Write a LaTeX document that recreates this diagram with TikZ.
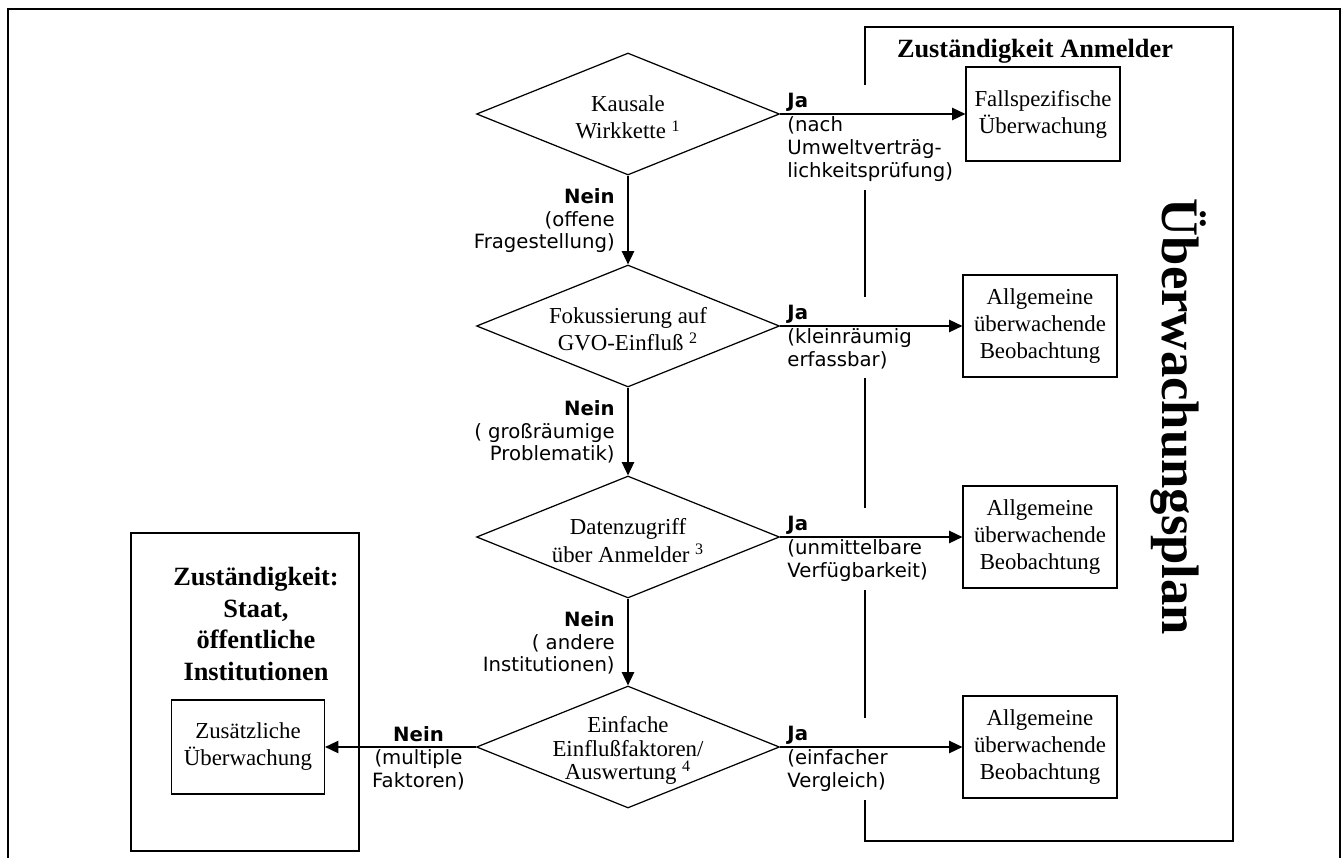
\documentclass[tikz,border=0pt]{standalone}
\usepackage{fontspec}
\setmainfont{Liberation Serif}
\newfontfamily\verdana{DejaVu Sans}
\usetikzlibrary{shapes.geometric,arrows.meta}
\tikzstyle{frame}=[line width=0.6pt]
\tikzstyle{box}=[rectangle, draw=black, line width=0.7pt, minimum width=3.08cm, minimum height=2.04cm, inner sep=0pt, align=center, font=\fontsize{13}{15.4}\selectfont]
\tikzstyle{decision}=[diamond, draw=black, line width=0.7pt, minimum width=6.06cm, minimum height=2.44cm, inner sep=0pt]
\tikzstyle{dtext}=[align=center, font=\fontsize{13}{15.5}\selectfont, yshift=-2pt]
\tikzstyle{ja}=[anchor=north west, align=left, fill=white, inner xsep=2pt, inner ysep=5pt, xshift=2pt, yshift=16.8pt, font=\verdana\fontsize{11.2}{13.2}\selectfont]
\tikzstyle{nein}=[anchor=north east, align=right, inner sep=0pt, xshift=-7.4pt, yshift=-7.4pt, font=\verdana\fontsize{11.2}{12.8}\selectfont]
\tikzstyle{heading}=[align=center, inner sep=0pt, font=\bfseries\fontsize{15}{18}\selectfont]
\tikzstyle{arrow}=[line width=0.7pt, -{Triangle[length=7.5pt,width=7pt]}]

\begin{document}
\begin{tikzpicture}[x=0.02cm, y=-0.02cm]
	\useasboundingbox (0,0) rectangle (1343,858);

	% frames
	\draw[frame] (8,858) -- (8,9) -- (1340,9) -- (1340,858);
	\draw[frame] (865,27) rectangle (1233,841);
	\draw[frame] (131,533) rectangle (359,851);

	\node[heading] (anmelder) at (1035,51) {Zuständigkeit Anmelder};
	\node[heading, anchor=north] (staat) at (256,567) {Zuständigkeit:\\Staat,\\öffentliche\\Institutionen};
	\node[rotate=-90, inner sep=0pt, font=\bfseries\fontsize{30}{30}\selectfont] (plantitel) at (1179,417) {Überwachungsplan};

	% questions
	\node[decision, label={[dtext]center:{Kausale\\Wirkkette \textsuperscript{1}}}] (frage1) at (628,114) {};
	\node[decision, label={[dtext]center:{Fokussierung auf\\GVO-Einfluß \textsuperscript{2}}}] (frage2) at (628,326) {};
	\node[decision, label={[dtext]center:{Datenzugriff\\über Anmelder \textsuperscript{3}}}] (frage3) at (628,537) {};
	\node[decision, label={[dtext, font=\fontsize{13}{13.2}\selectfont]center:{Einfache\\Einflußfaktoren/\\Auswertung \textsuperscript{4}}}] (frage4) at (628,747) {};

	\node[ja] (ja1) at (frage1.east) {\textbf{Ja}\\(nach\\Umweltverträg-\\lichkeitsprüfung)};
	\node[ja] (ja2) at (frage2.east) {\textbf{Ja}\\(kleinräumig\\erfassbar)};
	\node[ja] (ja3) at (frage3.east) {\textbf{Ja}\\(unmittelbare\\Verfügbarkeit)};
	\node[ja] (ja4) at (frage4.east) {\textbf{Ja}\\(einfacher\\Vergleich)};

	\node[nein] (nein1) at (frage1.south) {\textbf{Nein}\\(offene\\Fragestellung)};
	\node[nein] (nein2) at (frage2.south) {\textbf{Nein}\\( großräumige\\Problematik)};
	\node[nein] (nein3) at (frage3.south) {\textbf{Nein}\\( andere\\Institutionen)};
	\node[ja, anchor=north, align=center, xshift=0pt] (nein4) at (415,747) {\textbf{Nein}\\(multiple\\Faktoren)};

	% outcomes
	\node[box, minimum height=1.88cm] (plan1) at (1043,114) {Fallspezifische\\Überwachung};
	\node[box] (plan2) at (1040,326) {Allgemeine\\überwachende\\Beobachtung};
	\node[box] (plan3) at (1040,537) {Allgemeine\\überwachende\\Beobachtung};
	\node[box] (plan4) at (1040,747) {Allgemeine\\überwachende\\Beobachtung};
	\node[box, minimum width=3.06cm, minimum height=1.88cm] (zusatz) at (248,747) {Zusätzliche\\Überwachung};

	\draw[arrow] (frage1) -- (frage2);
	\draw[arrow] (frage2) -- (frage3);
	\draw[arrow] (frage3) -- (frage4);
	\draw[arrow] (frage1.east) -- (plan1);
	\draw[arrow] (frage2.east) -- (plan2);
	\draw[arrow] (frage3.east) -- (plan3);
	\draw[arrow] (frage4.east) -- (plan4);
	\draw[arrow] (frage4.west) -- (zusatz);

\end{tikzpicture}
\end{document}
